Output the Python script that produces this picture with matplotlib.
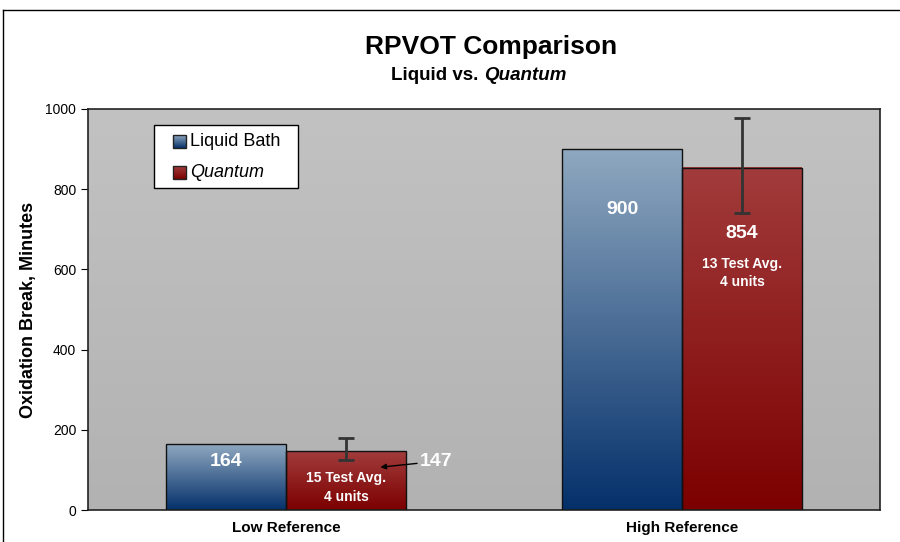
import numpy as np
import matplotlib.pyplot as plt
from matplotlib.colors import LinearSegmentedColormap
from matplotlib.patches import Rectangle
from matplotlib.lines import Line2D

plt.rcParams['font.family'] = ['Liberation Sans', 'DejaVu Sans']

# data
categories = ['Low Reference', 'High Reference']
liquid_bath = [164, 900]
quantum = [147, 854]
quantum_err_low = [22, 113]
quantum_err_high = [33, 124]
test_notes = ['15 Test Avg.\n4 units', '13 Test Avg.\n4 units']
series_names = ['Liquid Bath', 'Quantum']

fig = plt.figure(figsize=(9, 5.42), dpi=100)
ax = fig.add_axes([88 / 900, 1 - 510 / 542, 792 / 900, 401 / 542])

# frame around figure (cropped: only top and left visible)
fig.add_artist(Line2D([3 / 900, 1], [1 - 10 / 542] * 2, color='black', lw=1))
fig.add_artist(Line2D([3 / 900] * 2, [0, 1 - 10 / 542], color='black', lw=1))

x = np.arange(len(categories))
w = 0.303

blue_cmap = LinearSegmentedColormap.from_list('b', ['#04306a', '#8fa8c0'])
red_cmap = LinearSegmentedColormap.from_list('r', ['#7c0000', '#a23c3c'])
grad = np.linspace(0, 1, 256).reshape(-1, 1)

# plot area background gradient
bg_cmap = LinearSegmentedColormap.from_list('g', ['#b2b2b2', '#c2c2c2'])
ax.imshow(grad, cmap=bg_cmap, origin='lower', aspect='auto',
          extent=(-0.5, 1.5, 0, 1000), zorder=0)

b1 = ax.bar(x - w / 2, liquid_bath, w, facecolor='none', edgecolor='#111111', lw=1, zorder=3)
b2 = ax.bar(x + w / 2, quantum, w, facecolor='none', edgecolor='#111111', lw=1, zorder=3)
for bars, cmap in [(b1, blue_cmap), (b2, red_cmap)]:
    for r in bars:
        x0, y0 = r.get_x(), r.get_y()
        ax.imshow(grad, cmap=cmap, origin='lower', aspect='auto',
                  extent=(x0, x0 + r.get_width(), y0, y0 + r.get_height()), zorder=2)

ax.errorbar(x + w / 2, quantum, yerr=[quantum_err_low, quantum_err_high], fmt='none',
            ecolor='#333333', elinewidth=2, capsize=6, capthick=2, zorder=4)

ax.set_xlim(-0.5, 1.5)
ax.set_ylim(0, 1000)
ax.set_yticks([0, 200, 400, 600, 800, 1000])
ax.tick_params(axis='y', labelsize=10, length=5, direction='out')
ax.set_xticks(x)
ax.set_xticklabels(categories, fontsize=11, fontweight='bold')
ax.tick_params(axis='x', length=0, pad=8)
for s in ax.spines.values():
    s.set_color('#222222')
    s.set_linewidth(1.2)

ax.set_ylabel('Oxidation Break, Minutes', fontsize=13, fontweight='bold', labelpad=6)

# value labels
ax.text(x[0] - w / 2, 122, str(liquid_bath[0]), color='white', fontsize=14,
        fontweight='bold', ha='center', va='center', zorder=5)
ax.text(x[1] - w / 2, 750, str(liquid_bath[1]), color='white', fontsize=14,
        fontweight='bold', ha='center', va='center', zorder=5)
ax.text(x[0] + w + 0.075, 122, str(quantum[0]), color='white', fontsize=14,
        fontweight='bold', ha='center', va='center', zorder=5)
ax.text(x[1] + w / 2, 690, str(quantum[1]), color='white', fontsize=14,
        fontweight='bold', ha='center', va='center', zorder=5)
ax.text(x[0] + w / 2, 57, test_notes[0], color='white', fontsize=10,
        fontweight='bold', ha='center', va='center', linespacing=1.45, zorder=5)
ax.text(x[1] + w / 2, 591, test_notes[1], color='white', fontsize=10,
        fontweight='bold', ha='center', va='center', linespacing=1.45, zorder=5)
ax.annotate('', xy=(x[0] + w / 2 + 0.08, 106), xytext=(x[0] + w + 0.035, 117),
            arrowprops=dict(arrowstyle='-|>', color='black', lw=1, mutation_scale=8), zorder=5)

# titles
fig.text(491 / 900, 1 - 47 / 542, 'RPVOT Comparison', fontsize=19, fontweight='bold',
         ha='center', va='center')
fig.text(484 / 900, 1 - 76 / 542, 'Liquid vs. ', fontsize=13.5,
         fontweight='bold', ha='right', va='center')
fig.text(484 / 900, 1 - 76 / 542, 'Quantum', fontsize=13.5,
         fontweight='bold', style='italic', ha='left', va='center')

# legend box drawn by hand (Excel-style spacing)
ax.add_patch(Rectangle((0.0833, 0.803), 0.182, 0.157, transform=ax.transAxes,
                       facecolor='white', edgecolor='black', lw=1, zorder=6))
for i, (name, cmap) in enumerate([(series_names[0], blue_cmap), (series_names[1], red_cmap)]):
    yc = 0.918 - i * 0.077
    ax.imshow(grad, cmap=cmap, origin='lower', aspect='auto', transform=ax.transAxes,
              extent=(0.1073, 0.1237, yc - 0.0162, yc + 0.0162), zorder=7)
    ax.add_patch(Rectangle((0.1073, yc - 0.0162), 0.0164, 0.0324, transform=ax.transAxes,
                           facecolor='none', edgecolor='#222222', lw=1, zorder=8))
    ax.text(0.1288, yc, name, transform=ax.transAxes, fontsize=13, va='center',
            style='italic' if i == 1 else 'normal', zorder=8)

fig.savefig('out.png', dpi=100)
